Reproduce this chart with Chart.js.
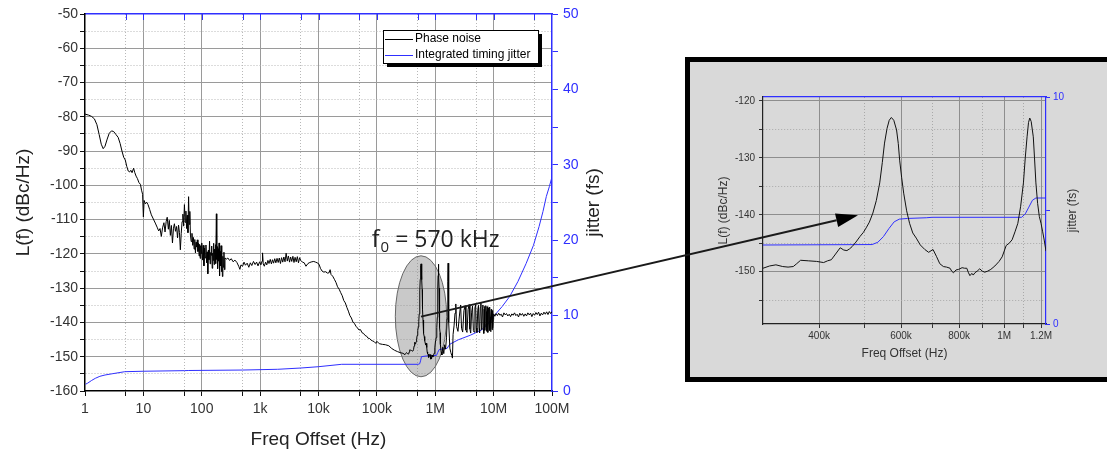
<!DOCTYPE html>
<html><head><meta charset="utf-8">
<script src="https://cdn.jsdelivr.net/npm/chart.js@4.4.1/dist/chart.umd.min.js"></script>
<style>
html,body{margin:0;padding:0;background:#fff;overflow:hidden;width:1107px;height:454px;position:relative;}
#main{position:absolute;left:0;top:0;}
#insetBox{position:absolute;left:685px;top:57px;width:440px;height:315px;border:5px solid #000;background:#d9d9d9;}
#inset{position:absolute;left:0;top:0;}
#overlay{position:absolute;left:0;top:0;pointer-events:none;}
</style></head><body>
<canvas id="main" width="620" height="454"></canvas>
<div id="insetBox"><canvas id="inset" width="417" height="315"></canvas></div>
<canvas id="overlay" width="1107" height="454"></canvas>
<script>
// ---------------- DATA ----------------
const xMajorTicks = [1, 10, 100, 1e3, 1e4, 1e5, 1e6, 1e7, 1e8];
const xMajorLabels = ['1', '10', '100', '1k', '10k', '100k', '1M', '10M', '100M'];
const xMinorTicks = [5, 50, 500, 5e3, 5e4, 5e5, 5e6, 5e7];
const yLeftTicks = [-160, -155, -150, -145, -140, -135, -130, -125, -120, -115, -110, -105, -100, -95, -90, -85, -80, -75, -70, -65, -60, -55, -50];
const yRightTicks = [0, 5, 10, 15, 20, 25, 30, 35, 40, 45, 50];

const insetXMajorTicks = [4e5, 6e5, 8e5, 1e6, 1.2e6];
const insetXMajorLabels = ['400k', '600k', '800k', '1M', '1.2M'];
const insetXMinorTicks = [5e5, 7e5, 9e5, 1.1e6];
const insetYTicks = [-155, -150, -145, -140, -135, -130, -125, -120];
const insetRightTicks = [0, 5, 10];

const seriesNames = ['Phase noise', 'Integrated timing jitter'];

// phase noise [Hz, dBc/Hz], 1 Hz .. 300 kHz
const phaseNoiseLow = [[1,-79.2],[1.15,-79.5],[1.3,-79.9],[1.45,-80.6],[1.6,-82.3],[1.75,-85.2],[1.9,-88],[2.05,-89.3],[2.2,-88.6],[2.4,-86.5],[2.6,-84.8],[2.85,-84.1],[3.1,-84.3],[3.4,-85.2],[3.7,-86],[4.0,-87.8],[4.3,-90],[4.6,-91.8],[4.9,-92.6],[5.2,-94.5],[5.5,-95.8],[5.8,-96.1],[6.1,-95.6],[6.4,-96.3],[6.8,-95],[7.1,-96.2],[7.5,-97.3],[7.9,-98],[8.4,-99.2],[8.9,-99.7],[9.3,-101.4],[9.7,-102.6],[10,-109.2],[10.3,-104.4],[10.8,-105.4],[11.4,-104.9],[12,-105.6],[12.8,-107],[13.7,-108.6],[14.8,-109.8],[16,-111],[17.2,-112.2],[18.3,-113.3],[19.3,-112.6],[20.3,-114.9],[21.3,-112.4],[22.5,-110.9],[23.5,-113.6],[24.6,-110.5],[25.6,-109.3],[26.8,-112.8],[27.8,-110.2],[29,-114.6],[30.2,-111.7],[31.5,-116.8],[32.8,-112.5],[34,-111.2],[35.5,-113.4],[37,-112],[38.5,-115.3],[40,-111.6],[41.5,-113.8],[43,-118.8],[44.5,-114],[46,-110.6],[47.5,-108.4],[49,-111.9],[50.5,-105.6],[52,-110.8],[53.5,-107.5],[55,-112.6],[56.5,-108.7],[58,-113.8],[59.5,-103.3],[61,-111.4],[62.5,-107.6],[64,-114.5],[66,-116.4],[68,-114],[70,-117.5],[72,-115.2],[74,-118.6],[76,-115.8],[78,-119.7],[80,-116.6],[82,-118],[84,-115.9],[86,-119.3],[88,-116.9],[90,-120.6],[92,-117.2],[94,-121.3],[96,-117.6],[98,-119.9],[100,-116.8],[103,-121.8],[106,-117.5],[109,-123.5],[112,-118.3],[115,-121.2],[118,-117.4],[121,-122.6],[124,-119.4],[127,-125.8],[130,-118.9],[133,-121.7],[136,-116.3],[139,-122.9],[142,-119.6],[145,-120.4],[148,-117.7],[151,-124.2],[154,-119.8],[157,-121.9],[160,-116.9],[163,-123.1],[166,-118.6],[169,-120.9],[172,-117.3],[175,-122.8],[178,-108.3],[181,-121.6],[184,-117.9],[187,-124.3],[190,-118.5],[194,-122.1],[198,-116.8],[202,-126.4],[206,-119.3],[210,-123.5],[214,-117.6],[218,-125.2],[222,-119.8],[226,-126.6],[230,-120.7],[235,-123.9],[240,-119.5],[245,-124.6],[250,-121.2],[265,-121.5],[280,-121.2],[300,-121.9],[320,-121.4],[345,-122.3],[370,-121.8],[400,-122.5],[430,-123.6],[450,-124.5],[470,-123.2],[500,-123.6],[530,-122.4],[560,-123.3],[600,-122.7],[640,-123.9],[680,-122.6],[720,-123.4],[770,-122.2],[820,-123.1],[870,-122.4],[920,-123.5],[980,-122.3],[1030,-123.2],[1080,-122.1],[1100,-119.7],[1130,-122.9],[1180,-123.6],[1240,-122.4],[1300,-123.2],[1360,-121.9],[1420,-122.8],[1490,-121.6],[1560,-122.9],[1630,-121.7],[1700,-122.7],[1780,-121.4],[1860,-122.6],[1950,-121.3],[2040,-122.5],[2130,-121.2],[2230,-122.8],[2330,-121.1],[2440,-122.4],[2550,-120.9],[2670,-122.3],[2790,-119.8],[2920,-122.1],[3050,-120.6],[3190,-122.4],[3330,-120.9],[3480,-122.2],[3640,-120.7],[3800,-122.5],[3970,-121],[4150,-122.3],[4340,-120.8],[4540,-122.6],[4750,-121.1],[4960,-121.9],[5300,-122.4],[5700,-122.6],[6100,-123.6],[6600,-122.8],[7100,-122.5],[7700,-122.3],[8300,-122.2],[8900,-122.4],[9500,-122.6],[10200,-123],[10800,-124.2],[11500,-125],[12300,-125.3],[13200,-125.2],[14200,-125.6],[15200,-125.5],[15800,-124.6],[16400,-126],[17500,-126.5],[18700,-127.4],[19900,-128.3],[21200,-129.6],[22600,-130.3],[24000,-131.3],[25500,-132.2],[27100,-133.6],[28800,-134.3],[30600,-135.6],[32500,-136.7],[34500,-138],[36600,-138.7],[38900,-139.9],[41300,-140.3],[43800,-141.1],[46500,-141.6],[49400,-142.2],[52400,-142.1],[55700,-143],[59100,-143.2],[62800,-143.8],[66700,-144],[70800,-144.6],[75200,-144.7],[79800,-145.2],[84800,-145.4],[90000,-145.6],[96000,-146.1],[100000,-145.5],[110000,-146.2],[125000,-146.4],[140000,-146.5],[160000,-146.8],[180000,-147.6],[200000,-148.1],[225000,-148.5],[250000,-148.8],[280000,-149]];

// phase noise around f0 (303 kHz .. 1.23 MHz), shown in the inset and the main plot
const phaseNoiseZoom = [[303e3,-149.4],[313e3,-149],[323e3,-148.8],[334e3,-149.1],[343e3,-149.2],[352e3,-149.1],[358e3,-148.6],[365e3,-148],[380e3,-148.1],[395e3,-148.2],[409e3,-148.4],[417e3,-148.1],[425e3,-147.9],[434e3,-146.9],[444e3,-145.8],[452e3,-146.2],[459e3,-146.3],[465e3,-146],[471e3,-145.6],[480e3,-144.8],[490e3,-143.8],[498e3,-143.1],[505e3,-142.3],[513e3,-141.3],[522e3,-139.7],[531e3,-137.5],[540e3,-134.4],[547e3,-130.8],[553e3,-127.4],[560e3,-124.8],[566e3,-123.4],[572e3,-122.9],[579e3,-123.4],[587e3,-125.1],[592e3,-127.5],[596e3,-130.4],[602e3,-133.5],[608e3,-136.2],[617e3,-139.3],[626e3,-141.5],[636e3,-143.2],[647e3,-144.1],[660e3,-145.3],[675e3,-146.1],[688e3,-146.6],[703e3,-146.1],[715e3,-147.3],[727e3,-148.6],[740e3,-149.1],[752e3,-149.2],[765e3,-149.4],[771e3,-149.9],[778e3,-150.2],[788e3,-149.7],[798e3,-149.6],[812e3,-149.3],[822e3,-149.4],[831e3,-149.4],[838e3,-150.2],[844e3,-150.7],[852e3,-150.3],[858e3,-150.6],[865e3,-150.2],[875e3,-149.9],[886e3,-149.5],[897e3,-149.9],[908e3,-150.1],[922e3,-149.9],[936e3,-149.6],[955e3,-149],[975e3,-148.2],[990e3,-147.4],[1.01e6,-145.4],[1.025e6,-145],[1.04e6,-144.4],[1.055e6,-143],[1.07e6,-141.5],[1.085e6,-138.5],[1.1e6,-134.4],[1.11e6,-130],[1.12e6,-126.3],[1.128e6,-123.8],[1.135e6,-123],[1.143e6,-123.6],[1.155e6,-126.3],[1.162e6,-130],[1.17e6,-134.4],[1.18e6,-138],[1.19e6,-140.3],[1.2e6,-141.5],[1.21e6,-143],[1.22e6,-144.6],[1.23e6,-146.4]];

// phase noise 1.23 MHz .. 100 MHz
const phaseNoiseHigh = [[1.26e6,-148.6],[1.3e6,-149.5],[1.35e6,-147.2],[1.4e6,-149.1],[1.45e6,-146.5],[1.5e6,-147.8],[1.56e6,-144.5],[1.6e6,-139],[1.64e6,-128],[1.66e6,-122.7],[1.68e6,-129],[1.72e6,-140],[1.78e6,-147.5],[1.85e6,-148.8],[1.92e6,-149.6],[1.97e6,-150.4],[2.02e6,-143.5],[2.1e6,-141],[2.18e6,-137.3],[2.25e6,-134.6],[2.32e6,-141.2],[2.45e6,-142.6],[2.58e6,-138.4],[2.72e6,-134.9],[2.82e6,-141.7],[2.95e6,-142.8],[3.1e6,-136.5],[3.25e6,-135.1],[3.35e6,-142.2],[3.5e6,-142.9],[3.65e6,-136.2],[3.8e6,-134.8],[3.92e6,-141.9],[4.05e6,-143.1],[4.2e6,-137],[4.35e6,-135.2],[4.5e6,-142.4],[4.62e6,-142.8],[4.78e6,-135.8],[4.92e6,-134.7],[5.05e6,-141.6],[5.18e6,-142.9],[5.35e6,-136.4],[5.5e6,-135],[5.62e6,-141.8],[5.75e6,-143],[5.9e6,-135.6],[6.05e6,-134.3],[6.18e6,-142.1],[6.3e6,-140.8],[6.42e6,-135.7],[6.55e6,-134.9],[6.65e6,-141.9],[6.78e6,-143.2],[6.9e6,-136.1],[7.0e6,-135.3],[7.1e6,-142.3],[7.22e6,-140.6],[7.35e6,-135.1],[7.45e6,-136.8],[7.55e6,-142.6],[7.65e6,-141.2],[7.78e6,-135.4],[7.9e6,-137.2],[8.0e6,-142.9],[8.1e6,-140.4],[8.22e6,-135.8],[8.35e6,-137.6],[8.45e6,-142.4],[8.55e6,-139.9],[8.65e6,-135.5],[8.78e6,-138.3],[8.9e6,-142.7],[9.0e6,-140.1],[9.12e6,-136.2],[9.25e6,-138.9],[9.38e6,-142.1],[9.5e6,-139.4],[9.62e6,-136.5],[9.75e6,-141.6],[9.88e6,-139.2],[1.0e7,-137.5],[1.05e7,-138.2],[1.1e7,-137.4],[1.16e7,-138],[1.22e7,-137.3],[1.28e7,-137.9],[1.35e7,-137.6],[1.42e7,-138.4],[1.5e7,-137.2],[1.58e7,-137.8],[1.66e7,-137.4],[1.75e7,-138.1],[1.85e7,-137.6],[1.95e7,-138.3],[2.05e7,-137.5],[2.16e7,-137.9],[2.28e7,-137.2],[2.4e7,-138],[2.53e7,-137.6],[2.67e7,-138.4],[2.81e7,-137.3],[2.96e7,-137.9],[3.12e7,-137.4],[3.29e7,-138.2],[3.47e7,-137.5],[3.66e7,-138.1],[3.86e7,-137.2],[4.07e7,-137.8],[4.29e7,-137.3],[4.52e7,-138.3],[4.77e7,-137.4],[5.03e7,-137.9],[5.3e7,-137.1],[5.59e7,-137.7],[5.89e7,-137],[6.21e7,-138.1],[6.55e7,-137.3],[6.9e7,-137.8],[7.28e7,-137],[7.67e7,-137.6],[8.09e7,-136.9],[8.53e7,-137.7],[8.99e7,-136.8],[9.48e7,-137.4],[1.0e8,-136.8]];

// integrated timing jitter [Hz, fs]
const jitterMain = [[1.02,0.9],[1.1,1.02],[1.3,1.4],[1.5,1.68],[1.8,1.95],[2.2,2.12],[3,2.3],[4.8,2.56],[10,2.62],[51,2.7],[60,2.72],[500,2.78],[2000,2.88],[5000,3.05],[9900,3.22],[25000,3.54],[510000,3.54],[540000,3.6],[560000,4.0],[580000,4.55],[700000,4.65],[1050000,4.72],[1100000,5.1],[1170000,5.5],[1600000,5.66],[1700000,6.0],[1800000,6.23],[2500000,6.8],[4000000,7.4],[6200000,8.1],[8000000,8.9],[9900000,9.85],[14000000,11.2],[18700000,12.5],[26000000,14.5],[36000000,16.9],[48000000,19.3],[60000000,21.8],[70000000,23.8],[80000000,25.8],[90000000,27.1],[100000000,28.4]];

const jitterZoom = [[3.03e5,3.48],[5.2e5,3.5],[5.35e5,3.6],[5.5e5,3.85],[5.65e5,4.2],[5.8e5,4.5],[5.95e5,4.62],[6.2e5,4.65],[6.8e5,4.68],[7.0e5,4.7],[1.09e6,4.7],[1.11e6,4.85],[1.13e6,5.15],[1.15e6,5.45],[1.17e6,5.55],[1.23e6,5.55]];

// annotations (data coordinates)
const f0Label = { x: 8.2e4, y: -117.9 };
const highlightEllipse = { cx: 5.7e5, cy: -138.2, xLo: 2.07e5, xHi: 1.57e6, yTop: -120.5, yBot: -155.8 };
const arrowFromMain = { x: 5.7e5, y: -138.3 };
const arrowToInset = { x: 4.85e5, y: -140.1 };

// ---------------- CHARTS ----------------
Chart.defaults.font.family = "'Liberation Sans', Arial, sans-serif";
Chart.defaults.animation = false;

const BLUE = '#2f2fff';
const DOTS = [1, 2];
const isDecade = v => Math.abs(Math.log10(v) - Math.round(Math.log10(v))) < 1e-6;
const toXY = arr => arr.map(p => ({ x: p[0], y: p[1] }));
const mkTicks = vals => vals.map(v => ({ value: v }));

const mainXAll = xMajorTicks.concat(xMinorTicks).sort((a, b) => a - b);
const transparent = 'rgba(0,0,0,0)';

const mainDecor = {
  id: 'mainDecor',
  beforeDatasetsDraw(chart) {
    const { ctx, scales: { x, y } } = chart;
    const e = highlightEllipse;
    const cx = x.getPixelForValue(e.cx), cy = y.getPixelForValue(e.cy);
    const rx = (x.getPixelForValue(e.xHi) - x.getPixelForValue(e.xLo)) / 2;
    const ry = (y.getPixelForValue(e.yBot) - y.getPixelForValue(e.yTop)) / 2;
    ctx.save();
    ctx.beginPath();
    ctx.ellipse(cx, cy, rx, ry, 0, 0, Math.PI * 2);
    ctx.fillStyle = 'rgba(135,135,135,0.45)';
    ctx.fill();
    ctx.lineWidth = 1;
    ctx.strokeStyle = '#666';
    ctx.stroke();
    ctx.restore();
  },
  afterDraw(chart) {
    const { ctx, chartArea: ca, scales: { x, y, y2 } } = chart;
    ctx.save();
    // inward blue ticks along top border
    ctx.strokeStyle = BLUE; ctx.lineWidth = 1;
    mainXAll.forEach(v => {
      if (v <= 1 || v >= 1e8) return;
      const px = Math.round(x.getPixelForValue(v)) + 0.5;
      ctx.beginPath(); ctx.moveTo(px, ca.top); ctx.lineTo(px, ca.top + 6); ctx.stroke();
    });
    // right axis title (reads bottom-to-top)
    ctx.save();
    ctx.translate(y2.right - 26, (ca.top + ca.bottom) / 2);
    ctx.rotate(-Math.PI / 2);
    ctx.fillStyle = '#222'; ctx.font = "19px 'Liberation Sans', Arial, sans-serif";
    ctx.textAlign = 'center'; ctx.textBaseline = 'middle';
    ctx.fillText('jitter (fs)', 0, 0);
    ctx.restore();
    // f0 label
    const lx = x.getPixelForValue(f0Label.x), ly = y.getPixelForValue(f0Label.y);
    ctx.fillStyle = '#222'; ctx.textBaseline = 'alphabetic'; ctx.textAlign = 'left';
    ctx.font = "23px 'Open Sans', sans-serif";
    ctx.fillText('f', lx, ly);
    let w = ctx.measureText('f').width;
    ctx.font = "15px 'Open Sans', sans-serif";
    ctx.fillText('0', lx + w + 1, ly + 5);
    w += ctx.measureText('0').width + 1;
    ctx.font = "23px 'Open Sans', sans-serif";
    ctx.fillText(' = 570 kHz', lx + w, ly);
    // legend box
    const bx = ca.right - 169, by = ca.top + 16, bw = 155, bh = 33;
    ctx.fillStyle = '#000'; ctx.fillRect(bx + 4, by + 4, bw, bh);
    ctx.fillStyle = '#fff'; ctx.fillRect(bx, by, bw, bh);
    ctx.strokeStyle = '#000'; ctx.lineWidth = 1; ctx.strokeRect(bx + 0.5, by + 0.5, bw, bh);
    const ds = chart.data.datasets;
    ctx.font = "12px 'Liberation Sans', Arial, sans-serif";
    ctx.textBaseline = 'middle';
    ds.forEach((d, i) => {
      const ry = by + 9 + i * 15.5;
      ctx.strokeStyle = d.borderColor; ctx.lineWidth = 1;
      ctx.beginPath(); ctx.moveTo(bx + 2, Math.round(ry) + 0.5); ctx.lineTo(bx + 30, Math.round(ry) + 0.5); ctx.stroke();
      ctx.fillStyle = '#000';
      ctx.fillText(d.label, bx + 32, ry);
    });
    ctx.restore();
  }
};

const mainChart = new Chart(document.getElementById('main'), {
  type: 'line',
  data: {
    datasets: [
      { label: seriesNames[0], data: toXY(phaseNoiseLow.concat(phaseNoiseZoom, phaseNoiseHigh)), borderColor: '#000', borderWidth: 1, pointRadius: 0, tension: 0, xAxisID: 'x', yAxisID: 'y' },
      { label: seriesNames[1], data: toXY(jitterMain), borderColor: BLUE, borderWidth: 1, pointRadius: 0, tension: 0, xAxisID: 'x', yAxisID: 'y2' }
    ]
  },
  options: {
    responsive: false,
    layout: { padding: { top: 14, left: 0, right: 0, bottom: 0 } },
    plugins: { legend: { display: false }, tooltip: { enabled: false } },
    scales: {
      x: {
        type: 'logarithmic', position: 'bottom', min: 1, max: 1e8,
        afterBuildTicks: s => { s.ticks = mkTicks(mainXAll); },
        afterFit: s => { s.height = 63; },
        ticks: {
          autoSkip: false, maxRotation: 0, minRotation: 0, padding: 5, color: '#333', font: { size: 14 },
          callback: v => { const i = xMajorTicks.findIndex(t => Math.abs(t - v) < t * 1e-6); return i >= 0 ? xMajorLabels[i] : ''; }
        },
        grid: {
          color: c => { if (!c.tick) return '#999'; const v = c.tick.value; if (v <= 1 || v >= 1e8) return transparent; return isDecade(v) ? '#9a9a9a' : '#b8b8b8'; },
          lineWidth: 1, tickLength: 5, tickColor: '#111'
        },
        border: { color: '#000', width: 1.5, dash: c => (c.tick && !isDecade(c.tick.value)) ? DOTS : [] },
        title: { display: true, text: 'Freq Offset (Hz)', color: '#222', font: { size: 19 }, padding: { top: 0, bottom: 3 } }
      },
      xTop: {
        type: 'logarithmic', position: 'top', min: 1, max: 1e8,
        afterFit: s => { s.height = 0; },
        ticks: { display: false },
        grid: { drawOnChartArea: false, drawTicks: false },
        border: { color: BLUE, width: 1.5 }
      },
      y: {
        type: 'linear', position: 'left', min: -160, max: -50,
        afterBuildTicks: s => { s.ticks = mkTicks(yLeftTicks); },
        afterFit: s => { s.width = 85; },
        ticks: { autoSkip: false, padding: 2, color: '#333', font: { size: 14 }, callback: v => (v % 10 === 0 ? String(v) : '') },
        grid: {
          color: c => { if (!c.tick) return '#999'; const v = c.tick.value; if (v <= -160 || v >= -50) return transparent; return v % 10 === 0 ? '#9a9a9a' : '#b8b8b8'; },
          lineWidth: 1, tickLength: 5, tickColor: '#111'
        },
        border: { color: '#000', width: 1.5, dash: c => (c.tick && c.tick.value % 10 !== 0) ? DOTS : [] },
        title: { display: true, text: 'L(f) (dBc/Hz)', color: '#222', font: { size: 19 }, padding: { top: 12, bottom: 0 } }
      },
      y2: {
        type: 'linear', position: 'right', min: 0, max: 50,
        afterBuildTicks: s => { s.ticks = mkTicks(yRightTicks); },
        afterFit: s => { s.width = 68; },
        ticks: { autoSkip: false, padding: 5, color: BLUE, font: { size: 14 }, callback: v => (v % 10 === 0 ? String(v) : '') },
        grid: { drawOnChartArea: false, tickLength: 6, tickColor: BLUE },
        border: { color: BLUE, width: 1.5 }
      }
    }
  },
  plugins: [mainDecor]
});

// ---------------- INSET ----------------
const insetXAll = insetXMajorTicks.concat(insetXMinorTicks).sort((a, b) => a - b);
const isInsetMajor = v => insetXMajorTicks.some(t => Math.abs(t - v) < 1);

const insetDecor = {
  id: 'insetDecor',
  afterDraw(chart) {
    const { ctx, chartArea: ca, scales: { y2 } } = chart;
    ctx.save();
    ctx.translate(y2.right - 34, (ca.top + ca.bottom) / 2);
    ctx.rotate(-Math.PI / 2);
    ctx.fillStyle = '#333'; ctx.font = "12px 'Liberation Sans', Arial, sans-serif";
    ctx.textAlign = 'center'; ctx.textBaseline = 'middle';
    ctx.fillText('jitter (fs)', 0, 0);
    ctx.restore();
  }
};

const insetChart = new Chart(document.getElementById('inset'), {
  type: 'line',
  data: {
    datasets: [
      { label: seriesNames[0], data: toXY(phaseNoiseZoom), borderColor: '#111', borderWidth: 1, pointRadius: 0, tension: 0, xAxisID: 'x', yAxisID: 'y' },
      { label: seriesNames[1], data: toXY(jitterZoom), borderColor: BLUE, borderWidth: 1, pointRadius: 0, tension: 0, xAxisID: 'x', yAxisID: 'y2' }
    ]
  },
  options: {
    responsive: false,
    layout: { padding: { top: 35, left: 0, right: 0, bottom: 0 } },
    plugins: { legend: { display: false }, tooltip: { enabled: false } },
    scales: {
      x: {
        type: 'logarithmic', position: 'bottom', min: 3.03e5, max: 1.23e6,
        afterBuildTicks: s => { s.ticks = mkTicks(insetXAll); },
        afterFit: s => { s.height = 53; },
        ticks: {
          autoSkip: false, maxRotation: 0, minRotation: 0, padding: 2, color: '#333', font: { size: 10 },
          callback: v => { const i = insetXMajorTicks.findIndex(t => Math.abs(t - v) < 1); return i >= 0 ? insetXMajorLabels[i] : ''; }
        },
        grid: { color: c => (!c.tick ? '#888' : (isInsetMajor(c.tick.value) ? '#8e8e8e' : '#a9a9a9')), lineWidth: 1, tickLength: 4, tickColor: '#333' },
        border: { color: '#222', width: 1.2, dash: c => (c.tick && !isInsetMajor(c.tick.value)) ? DOTS : [] },
        title: { display: true, text: 'Freq Offset (Hz)', color: '#333', font: { size: 12 }, padding: { top: 0, bottom: 16 } }
      },
      xTop: {
        type: 'logarithmic', position: 'top', min: 3.03e5, max: 1.23e6,
        afterFit: s => { s.height = 0; },
        ticks: { display: false },
        grid: { drawOnChartArea: false, drawTicks: false },
        border: { color: BLUE, width: 1.2 }
      },
      y: {
        type: 'linear', position: 'left', min: -159.2, max: -119.3,
        afterBuildTicks: s => { s.ticks = mkTicks(insetYTicks); },
        afterFit: s => { s.width = 73; },
        ticks: { autoSkip: false, padding: 4, color: '#333', font: { size: 10 }, callback: v => (v % 10 === 0 ? String(v) : '') },
        grid: { color: c => (!c.tick ? '#888' : (c.tick.value % 10 === 0 ? '#8e8e8e' : '#a9a9a9')), lineWidth: 1, tickLength: 4, tickColor: '#333' },
        border: { color: '#222', width: 1.2, dash: c => (c.tick && c.tick.value % 10 !== 0) ? DOTS : [] },
        title: { display: true, text: 'L(f) (dBc/Hz)', color: '#333', font: { size: 12 }, padding: { top: 26, bottom: 0 } }
      },
      y2: {
        type: 'linear', position: 'right', min: 0, max: 10,
        afterBuildTicks: s => { s.ticks = mkTicks(insetRightTicks); },
        afterFit: s => { s.width = 61; },
        ticks: { autoSkip: false, padding: 3, color: BLUE, font: { size: 10 }, callback: v => (v % 10 === 0 ? String(v) : '') },
        grid: { drawOnChartArea: false, tickLength: 4, tickColor: BLUE },
        border: { color: BLUE, width: 1.2 }
      }
    }
  },
  plugins: [insetDecor]
});

// ---------------- ARROW (connects the two charts) ----------------
(function drawArrow() {
  const octx = document.getElementById('overlay').getContext('2d');
  const sx = mainChart.scales.x.getPixelForValue(arrowFromMain.x);
  const sy = mainChart.scales.y.getPixelForValue(arrowFromMain.y);
  const insetCanvas = document.getElementById('inset');
  const r = insetCanvas.getBoundingClientRect();
  const ex = insetChart.scales.x.getPixelForValue(arrowToInset.x) + r.left;
  const ey = insetChart.scales.y.getPixelForValue(arrowToInset.y) + r.top;
  const ang = Math.atan2(ey - sy, ex - sx);
  const headLen = 22, headHalf = 7;
  const bx = ex - headLen * Math.cos(ang), by = ey - headLen * Math.sin(ang);
  octx.strokeStyle = '#1a1a1a'; octx.lineWidth = 2;
  octx.beginPath(); octx.moveTo(sx, sy); octx.lineTo(bx, by); octx.stroke();
  octx.fillStyle = '#000';
  octx.beginPath();
  octx.moveTo(ex, ey);
  octx.lineTo(bx + headHalf * Math.sin(ang), by - headHalf * Math.cos(ang));
  octx.lineTo(bx - headHalf * Math.sin(ang), by + headHalf * Math.cos(ang));
  octx.closePath(); octx.fill();
})();
</script>
</body></html>
